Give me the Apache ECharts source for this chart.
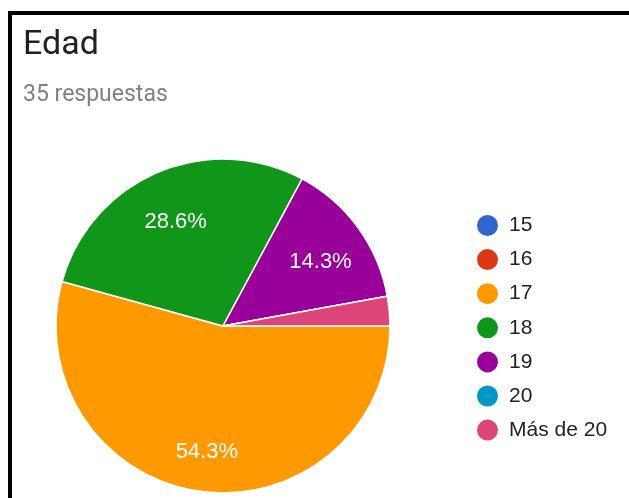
<!DOCTYPE html>
<html>
<head>
<meta charset="utf-8">
<script src="https://cdn.jsdelivr.net/npm/echarts@6/dist/echarts.min.js"></script>
<style>
html,body{margin:0;padding:0;background:#fff;}
#chart{width:629px;height:498px;}
</style>
</head>
<body>
<div id="chart"></div>
<script>
const categories = ['15', '16', '17', '18', '19', '20', 'Más de 20'];
const counts = [0, 0, 19, 10, 5, 0, 1];
const colors = ['#3366cc', '#dc3912', '#ff9900', '#109618', '#990099', '#0099c6', '#dd4477'];
const titleText = 'Edad';
const subtitleText = '35 respuestas';

const total = counts.reduce((a, b) => a + b, 0);
const data = categories.map((c, i) => ({ name: c, value: counts[i], itemStyle: { color: colors[i] } }));
const labelData = categories.map((c, i) => ({ name: c, value: counts[i] }));

const chart = echarts.init(document.getElementById('chart'), null, { renderer: 'canvas' });
chart.setOption({
  animation: false,
  backgroundColor: '#fff',
  title: {
    text: titleText,
    subtext: subtitleText,
    left: 18,
    top: 23,
    itemGap: 22,
    textStyle: { fontFamily: 'Roboto', fontWeight: 'normal', fontSize: 34, color: '#212121' },
    subtextStyle: { fontFamily: 'Roboto', fontSize: 23, color: '#808080' }
  },
  legend: {
    orient: 'vertical',
    left: 470,
    top: 208,
    itemWidth: 23,
    itemHeight: 23,
    itemGap: 9.1,
    icon: 'circle',
    data: categories,
    textStyle: { fontFamily: 'Liberation Sans, Arial', fontSize: 21, color: '#222', padding: [0, 0, 0, 5] }
  },
  graphic: [
    { type: 'rect', shape: { x: 8, y: 11, width: 4, height: 487 }, style: { fill: '#000' }, z: 100 },
    { type: 'rect', shape: { x: 8, y: 11, width: 621, height: 4 }, style: { fill: '#000' }, z: 100 }
  ],
  series: [
    {
      type: 'pie',
      center: [223, 326],
      radius: [0, 167],
      startAngle: 0,
      clockwise: true,
      avoidLabelOverlap: false,
      label: { show: false },
      labelLine: { show: false },
      emphasis: { disabled: true },
      itemStyle: { borderColor: '#fff', borderWidth: 1.5 },
      data: data
    },
    {
      type: 'pie',
      center: [223, 326],
      radius: [68, 167],
      startAngle: 0,
      clockwise: true,
      silent: true,
      avoidLabelOverlap: false,
      itemStyle: { color: 'rgba(0,0,0,0)', borderWidth: 0 },
      labelLine: { show: false },
      label: {
        show: true,
        position: 'inside',
        offset: [0, 7],
        fontFamily: 'Liberation Sans, Arial',
        fontSize: 22,
        color: '#fff',
        formatter: p => p.percent >= 5 ? (p.value / total * 100).toFixed(1) + '%' : ''
      },
      data: labelData
    }
  ]
});
</script>
</body>
</html>
